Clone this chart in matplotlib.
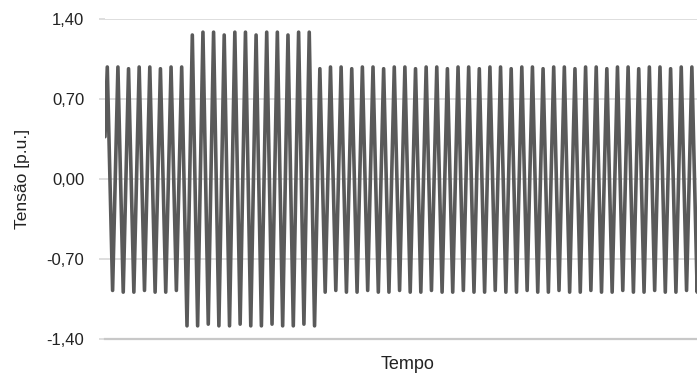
import numpy as np
import matplotlib
matplotlib.use("Agg")
import matplotlib.pyplot as plt

plt.rcParams['font.family'] = ['Liberation Sans', 'DejaVu Sans']

# Sample values (extremes of each half-cycle), in p.u.
inicio = [0.37]
antes = [0.98, -0.975, 0.98, -0.99, 0.965, -0.99, 0.98, -0.975, 0.98, -0.99,
         0.965, -0.99, 0.98, -0.975, 0.98]
elevacao = [-1.285, 1.26, -1.285, 1.285, -1.27, 1.285, -1.285, 1.26, -1.285,
            1.285, -1.27, 1.285, -1.285, 1.26, -1.285, 1.285, -1.27, 1.285,
            -1.285, 1.26, -1.285, 1.285, -1.27, 1.285, -1.285]
depois = [0.965, -0.99, 0.98, -0.975, 0.98, -0.99, 0.965, -0.99, 0.98, -0.975,
          0.98, -0.99, 0.965, -0.99, 0.98, -0.975, 0.98, -0.99, 0.965, -0.99,
          0.98, -0.975, 0.98, -0.99, 0.965, -0.99, 0.98, -0.975, 0.98, -0.99,
          0.965, -0.99, 0.98, -0.975, 0.98, -0.99, 0.965, -0.99, 0.98, -0.975,
          0.98, -0.99, 0.965, -0.99, 0.98, -0.975, 0.98, -0.99, 0.965, -0.99,
          0.98, -0.975, 0.98, -0.99, 0.965, -0.99, 0.98, -0.975, 0.98, -0.99,
          0.965, -0.99, 0.98, -0.975, 0.98, -0.99, 0.965, -0.99, 0.98, -0.975,
          0.98, -0.99, 0.965, -0.99, 0.98]
tensao = inicio + antes + elevacao + depois
tempo = [0.57] + list(range(1, len(tensao)))

yticks = [-1.40, -0.70, 0.00, 0.70, 1.40]
ytick_labels = ["-1,40", "-0,70", "0,00", "0,70", "1,40"]

fig = plt.figure(figsize=(6.97, 3.76), dpi=100)
ax = fig.add_axes([105/697, 37/376, 606/697, 320/376])

ax.plot(tempo, tensao, color='#5a5a5a', lw=2.6, solid_joinstyle='round',
        solid_capstyle='round', zorder=3)

ax.set_xlim(0.57, 114.6)
ax.set_ylim(-1.40, 1.40)
ax.set_yticks(yticks)
ax.set_yticklabels(ytick_labels)
ax.set_xticks([])

ax.grid(axis='y', color='#d4d4d4', lw=1.1, zorder=0)
for s in ['top', 'right', 'left']:
    ax.spines[s].set_visible(False)
ax.spines['bottom'].set_color('#c8c8c8')
ax.spines['bottom'].set_linewidth(1.6)

ax.tick_params(axis='y', length=4, width=1.1, color='#d4d4d4', pad=11,
               labelsize=12, labelcolor='#222222')

ax.set_xlabel('Tempo', fontsize=13, color='#222222', labelpad=12.5)
ax.set_ylabel('Tensão [p.u.]', fontsize=12.5, color='#222222', labelpad=12)

fig.savefig('out.png', dpi=100)
